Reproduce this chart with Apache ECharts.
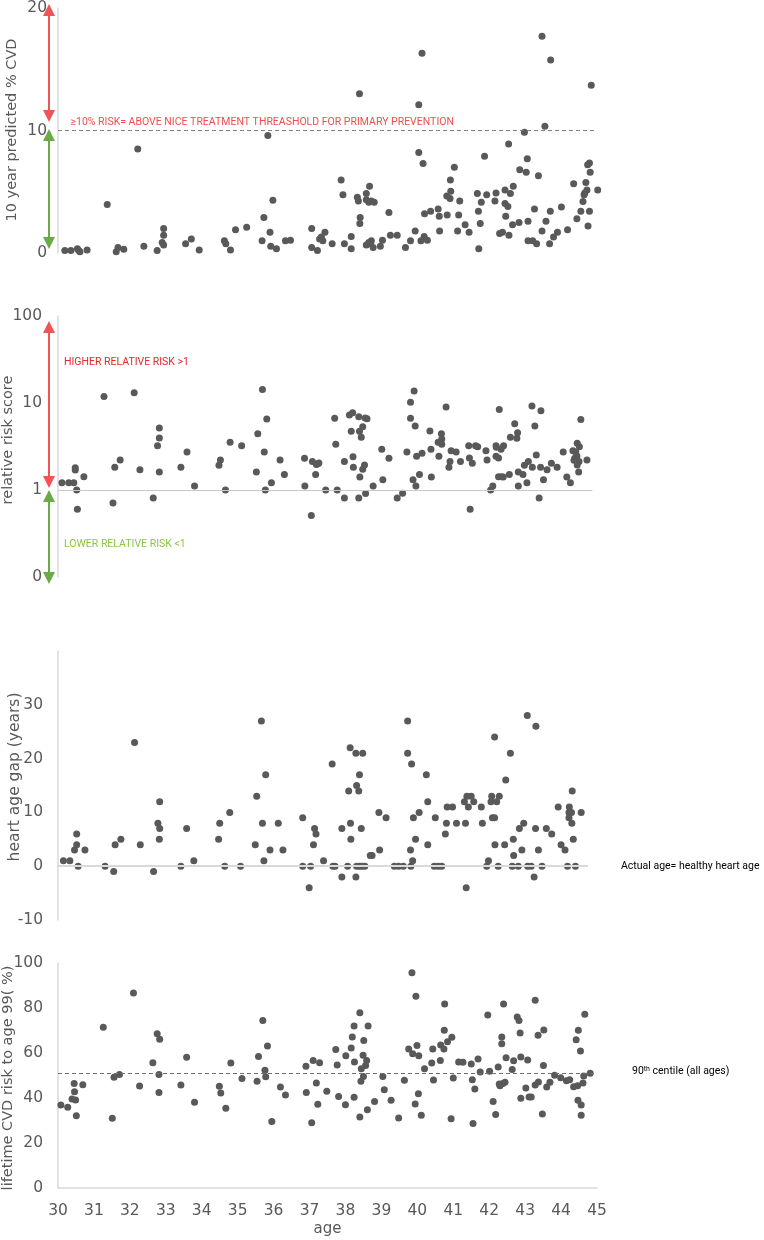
<!DOCTYPE html>
<html>
<head>
<meta charset="utf-8">
<title>CVD risk by age</title>
<script src="https://cdn.jsdelivr.net/npm/echarts@6/dist/echarts.min.js"></script>
<style>
  html, body { margin: 0; padding: 0; background: #fff; }
  #chart { width: 764px; height: 1240px; }
</style>
</head>
<body>
<div id="chart"></div>
<script>
// age range shared by all four panels
var ageMin = 30, ageMax = 45;

// reference lines
var treatThreshold = 10;   // NICE treatment threshold (%)
var relRiskBaseline = 1;
var heartGapBaseline = 0;
var centile90 = 51;

// panel 1: 10 year predicted % CVD  [age, %]
var tenYearRisk = [
  [30.19,0.2],[30.36,0.2],[30.54,0.35],[30.58,0.2],[30.61,0.1],[30.81,0.25],
  [31.37,3.95],[31.62,0.1],[31.67,0.45],[31.83,0.3],[32.22,8.5],[32.39,0.55],[32.76,0.2],[32.9,0.85],[32.94,0.65],[32.94,1.45],[32.94,2.0],
  [33.55,0.75],[33.71,1.15],[33.93,0.25],[34.63,1.0],[34.67,0.75],[34.8,0.25],[34.94,1.9],[35.25,2.1],[35.68,1.0],[35.73,2.9],[35.84,9.6],[35.9,1.7],[35.92,0.55],[35.98,4.3],[36.08,0.35],[36.33,1.0],[36.47,1.05],
  [37.06,2.0],[37.06,0.45],[37.22,0.2],[37.28,1.15],[37.33,1.3],[37.37,1.0],[37.43,1.7],[37.63,0.75],[37.88,5.95],[37.93,4.75],[37.97,0.75],[38.16,1.35],[38.16,0.35],[38.39,13.0],[38.33,4.55],[38.36,4.25],[38.41,2.9],[38.4,2.4],[38.58,4.85],[38.67,5.45],[38.58,4.35],[38.65,4.15],[38.8,4.15],[38.72,4.25],[38.58,0.65],[38.65,0.85],[38.72,1.0],[38.7,0.75],[38.77,0.45],[38.97,0.55],[39.03,1.05],[39.21,3.3],[39.25,1.45],[39.44,1.45],
  [39.67,0.45],[39.81,1.0],[39.94,1.8],[40.04,12.1],[40.13,16.3],[40.04,8.2],[40.16,7.3],[40.2,3.2],[40.1,1.0],[40.19,1.35],[40.28,1.05],[40.37,3.4],[40.58,3.6],[40.61,3.0],[40.62,1.8],[40.83,3.1],[40.82,4.65],[40.91,4.45],[40.93,5.05],[40.92,5.95],[41.03,7.0],[41.18,4.25],[41.15,3.1],[41.12,1.8],[41.33,2.3],[41.44,1.7],[41.67,4.85],[41.7,3.4],[41.75,2.4],[41.78,4.15],[41.71,0.35],[41.87,7.9],[41.93,4.75],
  [42.16,4.25],[42.19,4.9],[42.29,1.6],[42.37,1.7],[42.44,5.15],[42.44,4.05],[42.52,3.8],[42.46,3.0],[42.55,1.45],[42.54,8.9],[42.59,4.85],[42.65,2.3],[42.67,5.45],[42.83,2.5],[42.85,6.8],[42.98,9.85],[43.03,6.6],[43.06,7.7],[43.08,2.6],[43.08,1.0],[43.21,1.0],[43.32,0.75],[43.37,6.3],[43.26,3.6],[43.47,17.7],[43.55,10.35],[43.47,1.8],[43.58,2.6],[43.71,15.75],[43.7,3.4],[43.68,0.75],[43.79,1.3],[43.9,1.7],
  [44.01,3.75],[44.18,1.9],[44.35,5.65],[44.44,2.8],[44.55,3.4],[44.61,4.2],[44.64,4.75],[44.66,4.9],[44.69,5.75],[44.72,5.15],[44.74,7.2],[44.79,7.35],[44.81,6.6],[44.79,3.4],[44.75,2.2],[44.84,13.7],[45.02,5.15]
];

// panel 2: relative risk score (log axis)  [age, score]
var relativeRisk = [
  [30.11,1.21],[30.3,1.21],[30.44,1.21],[30.48,1.8],[30.48,1.7],[30.52,1.0],[30.54,0.6],[30.72,1.42],[31.28,11.9],[31.53,0.71],[31.58,1.82],[31.73,2.21],[32.12,13.1],[32.28,1.71],[32.65,0.81],[32.77,3.23],[32.82,5.16],[32.82,3.96],[32.82,1.61],
  [33.42,1.82],[33.59,2.73],[33.8,1.11],[34.48,1.92],[34.52,2.21],[34.66,1.0],[34.79,3.53],[35.11,3.23],[35.52,1.61],[35.56,4.44],[35.69,14.3],[35.74,2.73],[35.81,6.55],[35.77,1.0],[35.94,1.21],[36.18,2.21],[36.3,1.51],
  [36.86,2.31],[36.87,1.11],[37.05,0.51],[37.08,2.12],[37.17,1.51],[37.19,1.97],[37.26,2.05],[37.23,2.0],[37.45,1.0],[37.7,6.66],[37.73,3.35],[37.77,1.0],[37.97,2.12],[37.97,0.81],[38.11,7.27],[38.2,7.74],[38.16,4.72],[38.21,2.41],[38.22,1.82],[38.37,6.96],[38.4,1.41],[38.37,0.81],[38.39,4.72],[38.48,5.34],[38.44,4.03],[38.55,6.72],[38.6,6.6],[38.53,1.94],[38.48,1.73],[38.56,0.91],[38.77,1.11],[39.01,2.94],[39.04,1.31],[39.21,2.31],[39.44,0.81],
  [39.59,0.92],[39.71,2.73],[39.81,10.2],[39.91,13.7],[39.81,6.66],[39.94,5.45],[39.98,2.44],[39.88,1.31],[39.96,1.11],[40.06,1.51],[40.13,2.64],[40.35,4.77],[40.38,2.94],[40.39,1.41],[40.6,2.44],[40.58,3.53],[40.67,4.44],[40.68,3.85],[40.68,3.35],[40.8,9.0],[40.88,1.82],[40.91,2.12],[40.94,2.83],[41.08,2.73],[41.2,2.12],[41.43,3.23],[41.45,2.33],[41.53,2.03],[41.47,0.6],[41.62,3.23],[41.68,3.15],[41.91,2.83],[41.94,2.21],
  [42.04,1.0],[42.1,1.11],[42.19,3.23],[42.2,3.1],[42.19,2.44],[42.26,2.33],[42.28,8.4],[42.26,1.42],[42.34,1.42],[42.33,2.94],[42.4,3.23],[42.39,1.41],[42.56,1.51],[42.59,4.03],[42.71,5.78],[42.77,3.93],[42.79,4.55],[42.81,1.61],[42.81,1.11],[42.94,1.51],[42.98,1.92],[43.05,1.21],[43.09,2.12],[43.19,9.22],[43.2,1.82],[43.27,5.45],[43.31,2.52],[43.44,8.17],[43.43,1.82],[43.39,0.81],[43.51,1.31],[43.61,1.71],[43.73,2.03],[43.89,1.82],
  [44.06,2.73],[44.16,1.41],[44.26,1.21],[44.33,2.83],[44.41,2.73],[44.38,2.31],[44.36,2.2],[44.44,2.46],[44.45,3.44],[44.51,3.15],[44.55,6.48],[44.5,2.12],[44.45,1.94],[44.49,1.61],[44.72,2.21]
];

// panel 3: heart age gap (years)  [age, years]
var heartAgeGap = [
  [30.15,1],[30.33,1],[30.46,3],[30.52,6],[30.52,4],[30.56,0],[30.75,3],[31.31,0],[31.55,-1],[31.59,4],[31.75,5],[32.13,23],[32.29,4],[32.66,-1],[32.78,8],[32.83,7],[32.83,12],[32.82,5],[33.42,0],[33.58,7],[33.78,1],
  [34.47,5],[34.5,8],[34.64,0],[34.78,10],[35.08,0],[35.49,4],[35.53,13],[35.66,27],[35.69,8],[35.73,1],[35.78,17],[35.9,3],[36.13,8],[36.26,3],
  [36.81,9],[36.81,0],[36.99,-4],[37.03,0],[37.11,4],[37.14,7],[37.18,6],[37.39,1],[37.63,19],[37.65,0],[37.71,0],[37.9,7],[37.9,-2],[38.06,0],[38.09,14],[38.13,22],[38.14,8],[38.15,5],[38.29,21],[38.31,15],[38.29,-2],[38.31,0],[38.39,0],[38.46,0],[38.54,0],[38.37,14],[38.39,17],[38.48,21],[38.44,7],[38.69,2],[38.74,2],[38.93,10],[38.95,3],[39.13,9],[39.36,0],[39.48,0],
  [39.61,0],[39.73,27],[39.73,21],[39.84,19],[39.81,3],[39.82,0],[39.87,1],[39.89,9],[39.95,5],[40.05,10],[40.25,17],[40.29,12],[40.29,4],[40.47,0],[40.58,0],[40.68,0],[40.5,9],[40.78,6],[40.81,8],[40.83,11],[40.98,11],[41.09,8],[41.31,12],[41.34,8],[41.36,-4],[41.38,13],[41.5,13],[41.42,11],[41.57,12],[41.78,11],[41.81,8],[41.93,0],[41.98,1],
  [42.05,12],[42.07,13],[42.09,9],[42.15,9],[42.15,24],[42.16,4],[42.21,12],[42.25,0],[42.28,13],[42.43,4],[42.46,16],[42.59,21],[42.67,5],[42.64,0],[42.81,0],[42.68,2],[42.84,7],[42.91,3],[42.96,8],[43.06,28],[43.07,0],[43.17,0],[43.25,-2],[43.29,7],[43.3,26],[43.37,3],[43.47,0],[43.59,7],[43.74,6],[43.92,11],
  [44.0,4],[44.11,3],[44.18,0],[44.23,11],[44.22,10],[44.29,10],[44.22,9],[44.3,8],[44.31,14],[44.34,5],[44.4,0],[44.56,10]
];

// panel 4: lifetime CVD risk to age 99 (%)  [age, %]
var lifetimeRisk = [
  [30.08,36.9],[30.27,35.9],[30.39,39.6],[30.46,42.8],[30.45,46.4],[30.49,39.1],[30.51,32.1],[30.69,45.9],[31.51,31.0],[31.26,71.4],[31.56,49.2],[31.71,50.5],[32.1,86.7],[32.27,45.3],[32.64,55.7],[32.76,68.6],[32.83,66.1],[32.81,50.5],[32.81,42.4],
  [33.42,45.8],[33.58,58.1],[33.8,38.1],[34.49,45.2],[34.53,42.2],[34.67,35.4],[34.81,55.6],[35.12,48.7],[35.54,47.4],[35.58,58.5],[35.7,74.5],[35.76,52.3],[35.78,49.5],[35.83,63.1],[35.95,29.6],[36.19,44.9],[36.33,41.3],
  [36.9,54.1],[36.91,42.4],[37.06,29.0],[37.1,56.7],[37.19,46.7],[37.23,37.2],[37.28,55.7],[37.48,43.0],[37.73,61.6],[37.77,54.7],[37.81,40.7],[38.0,37.0],[38.01,58.8],[38.16,62.2],[38.19,67.1],[38.24,72.0],[38.25,56.0],[38.24,40.3],[38.4,77.9],[38.44,53.0],[38.43,47.4],[38.4,31.6],[38.51,65.6],[38.49,59.0],[38.59,56.7],[38.56,54.5],[38.5,49.6],[38.63,72.0],[38.61,34.8],[38.81,38.5],[39.04,49.6],[39.08,43.7],[39.27,39.0],[39.48,31.1],
  [39.64,47.9],[39.85,95.7],[39.96,85.2],[39.76,61.8],[39.87,59.7],[39.99,63.3],[40.04,58.8],[40.03,41.9],[39.94,37.3],[40.11,32.3],[40.2,53.0],[40.4,55.6],[40.43,61.8],[40.45,48.0],[40.65,63.6],[40.64,56.7],[40.74,61.8],[40.75,70.1],[40.76,81.8],[40.84,65.0],[40.96,67.0],[41.0,48.9],[40.94,30.8],[41.15,56.0],[41.27,55.9],[41.5,55.1],[41.69,57.3],[41.53,48.1],[41.6,44.0],[41.55,28.7],[41.75,51.6],[41.96,76.9],
  [42.01,51.9],[42.11,38.5],[42.18,32.7],[42.25,53.8],[42.28,46.2],[42.3,45.5],[42.38,46.4],[42.44,47.0],[42.35,64.1],[42.35,67.1],[42.4,81.8],[42.47,57.9],[42.64,52.7],[42.68,56.6],[42.78,76.0],[42.83,74.4],[42.86,68.9],[42.88,58.2],[42.88,39.9],[43.02,44.4],[43.07,56.9],[43.11,40.4],[43.17,40.4],[43.28,83.4],[43.28,45.8],[43.37,47.1],[43.36,67.9],[43.52,70.2],[43.51,54.4],[43.48,32.9],[43.6,44.9],[43.69,47.0],[43.82,50.1],[43.99,49.0],
  [44.15,47.7],[44.24,48.1],[44.35,45.0],[44.46,45.5],[44.42,65.9],[44.48,70.1],[44.54,60.9],[44.47,39.0],[44.56,36.9],[44.56,32.3],[44.61,46.7],[44.63,49.8],[44.66,77.2],[44.81,51.0]
];

var grey = '#595959';
var axisGrey = '#d9d9d9';
var tickFont = { color: grey, fontSize: 15.5, fontFamily: 'DejaVu Sans' };

var chart = echarts.init(document.getElementById('chart'), null, { renderer: 'canvas' });

function grid(top, height) {
  return { left: 58, right: 167, top: top, height: height, outerBoundsMode: 'none' };
}

function yAxis(idx, extra) {
  var a = {
    gridIndex: idx,
    type: 'value',
    axisLine: { show: true, lineStyle: { color: axisGrey, width: 1.5 } },
    axisTick: { show: false },
    splitLine: { show: false },
    axisLabel: Object.assign({ margin: 15 }, tickFont)
  };
  return Object.assign(a, extra);
}

function dots(idx, data, markLine) {
  var s = {
    type: 'scatter',
    xAxisIndex: idx,
    yAxisIndex: idx,
    data: data,
    symbolSize: 7,
    clip: false,
    silent: true,
    itemStyle: { color: grey, opacity: 1 }
  };
  if (markLine) s.markLine = markLine;
  return s;
}

function refLine(y, xEnd, color, type, width) {
  return {
    silent: true,
    symbol: 'none',
    label: { show: false },
    lineStyle: { color: color, type: type, width: width },
    data: [[{ coord: [ageMin, y] }, { coord: [xEnd, y] }]]
  };
}

// double-headed vertical arrow (annotation)
function arrow(x, yTop, yBot, color) {
  var h = 12, w = 6;
  return [
    { type: 'line', silent: true, shape: { x1: x, y1: yTop + h - 1, x2: x, y2: yBot - h + 1 },
      style: { stroke: color, lineWidth: 2 } },
    { type: 'polygon', silent: true, shape: { points: [[x, yTop], [x - w, yTop + h], [x + w, yTop + h]] },
      style: { fill: color } },
    { type: 'polygon', silent: true, shape: { points: [[x, yBot], [x - w, yBot - h], [x + w, yBot - h]] },
      style: { fill: color } }
  ];
}

function vText(x, y, text, size) {
  return { type: 'text', x: x, y: y, rotation: Math.PI / 2, silent: true,
    style: { text: text, fill: grey, fontSize: size, fontFamily: 'DejaVu Sans', align: 'center', verticalAlign: 'middle' } };
}

function note(x, y, text, color) {
  return { type: 'text', x: x, y: y, silent: true,
    style: { text: text, fill: color, fontSize: 10.5, fontFamily: 'Roboto', align: 'left', verticalAlign: 'middle' } };
}

var red = '#f05454', green = '#6aab45';

var graphics = []
  .concat(arrow(49, 4, 122, red))
  .concat(arrow(49, 129, 249, green))
  .concat(arrow(49, 321, 488, red))
  .concat(arrow(49, 490, 584, green))
  .concat([
    vText(12, 130, '10 year predicted % CVD', 14.5),
    vText(8, 440, 'relative risk score', 14.5),
    vText(15, 777, 'heart age gap (years)', 15.5),
    vText(8.5, 1078, 'lifetime CVD risk to age 99( %)', 14.5),
    note(70.5, 122.5, '\u226510% RISK= ABOVE NICE TREATMENT THREASHOLD FOR PRIMARY PREVENTION', '#f04e4e'),
    note(64, 362, 'HIGHER RELATIVE RISK >1', '#e8262c'),
    note(64, 544, 'LOWER RELATIVE RISK <1', '#8cc63f'),
    note(621, 866.5, 'Actual age= healthy heart age', '#000000'),
    { type: 'text', x: 632, y: 1071, silent: true,
      style: { text: '90{sup|th} centile (all ages)', fill: '#000000', fontSize: 10.5, fontFamily: 'Roboto',
        align: 'left', verticalAlign: 'middle',
        rich: { sup: { fontSize: 7, fontFamily: 'Roboto', fill: '#000000', verticalAlign: 'top', padding: [0, 0, 3, 0] } } } }
  ]);

var option = {
  animation: false,
  backgroundColor: '#ffffff',
  grid: [grid(8, 245), grid(316, 261), grid(651, 269), grid(963, 225)],
  xAxis: [0, 1, 2, 3].map(function (i) {
    var a = { gridIndex: i, type: 'value', min: ageMin, max: ageMax, interval: 1, show: i === 3, splitLine: { show: false } };
    if (i === 3) {
      a.axisLine = { show: true, lineStyle: { color: axisGrey, width: 1.5 } };
      a.axisTick = { show: false };
      a.axisLabel = Object.assign({ margin: 15 }, tickFont);
      a.name = 'age';
      a.nameLocation = 'middle';
      a.nameGap = 34;
      a.nameTextStyle = { color: grey, fontSize: 15, fontFamily: 'DejaVu Sans' };
    }
    return a;
  }),
  yAxis: [
    yAxis(0, { min: 0, max: 20, interval: 10, axisLabel: Object.assign({ margin: 11 }, tickFont) }),
    yAxis(1, { type: 'log', logBase: 10, min: 0.1, max: 100,
      axisLabel: Object.assign({ margin: 16, formatter: function (v) { return v < 0.5 ? '0' : String(Math.round(v)); } }, tickFont) }),
    yAxis(2, { min: -10, max: 40, interval: 10,
      axisLabel: Object.assign({ margin: 15, formatter: function (v) { return v === 40 ? '' : String(v); } }, tickFont) }),
    yAxis(3, { min: 0, max: 100, interval: 20 })
  ],
  series: [
    dots(0, tenYearRisk, refLine(treatThreshold, 44.97, '#7f7f7f', [4, 3], 1)),
    dots(1, relativeRisk, refLine(relRiskBaseline, 44.87, '#c8c8c8', 'solid', 1.2)),
    dots(2, heartAgeGap, refLine(heartGapBaseline, 44.75, axisGrey, 'solid', 1.8)),
    dots(3, lifetimeRisk, refLine(centile90, 44.97, '#6f6f6f', [4, 3], 1))
  ],
  graphic: graphics
};

chart.setOption(option);
</script>
</body>
</html>
